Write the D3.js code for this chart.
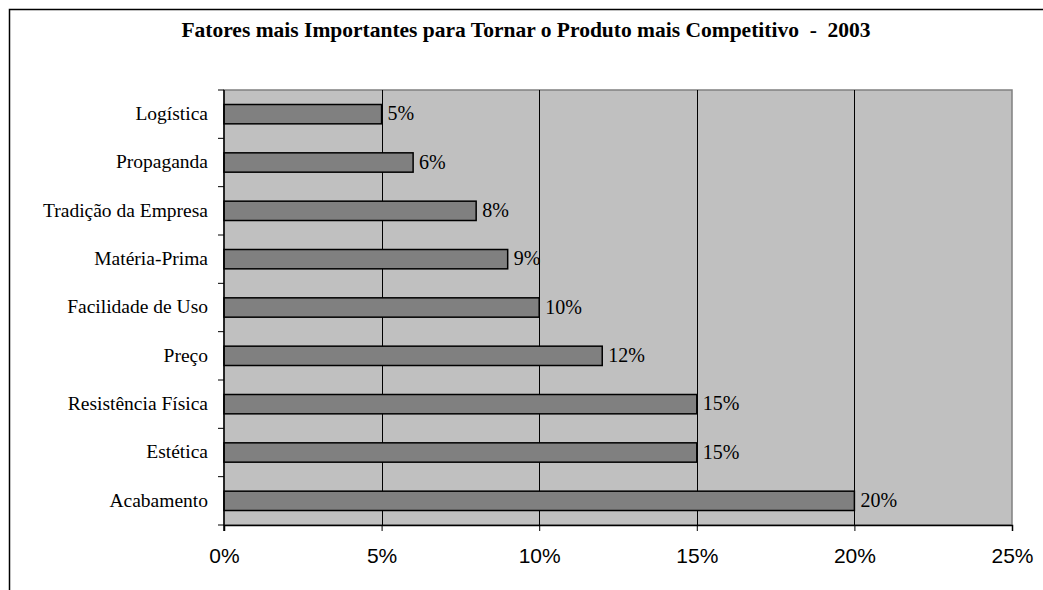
<!DOCTYPE html>
<html>
<head>
<meta charset="utf-8">
<script src="https://cdn.jsdelivr.net/npm/d3@7"></script>
<style>
  html, body { margin: 0; padding: 0; background: #fff; }
  svg { display: block; }
</style>
</head>
<body>
<svg id="chart" width="1043" height="590"></svg>
<script>
// Factors ranked by importance (top to bottom)
const categories = [
  "Logística", "Propaganda", "Tradição da Empresa", "Matéria-Prima",
  "Facilidade de Uso", "Preço", "Resistência Física", "Estética", "Acabamento"
];
const values = [5, 6, 8, 9, 10, 12, 15, 15, 20];
const xTicks = [0, 5, 10, 15, 20, 25];
const chartTitle = "Fatores mais Importantes para Tornar o Produto mais Competitivo  -  2003";

const svg = d3.select("#chart");
const W = 1043, H = 590;
const plot = { left: 224, right: 1012, top: 90, bottom: 525 };
const serif = "Liberation Serif, Times New Roman, serif";

// Outer frame (continues past the right and bottom edges)
svg.append("rect")
  .attr("x", 9.5).attr("y", 9.5)
  .attr("width", W + 20).attr("height", H + 20)
  .attr("fill", "#fff").attr("stroke", "#000").attr("stroke-width", 1.5);

// Title
svg.append("text")
  .attr("x", 526).attr("y", 37)
  .attr("text-anchor", "middle")
  .attr("font-family", serif)
  .attr("font-weight", "bold")
  .attr("font-size", 21.5)
  .style("white-space", "pre")
  .text(chartTitle);

const x = d3.scaleLinear().domain([0, 25]).range([plot.left, plot.right]);
const y = d3.scaleBand().domain(categories).range([plot.top, plot.bottom]).paddingInner(0.6).paddingOuter(0.3);
const yEdges = d3.scaleLinear().domain([0, categories.length]).range([plot.top, plot.bottom]);

// Plot background
svg.append("rect")
  .attr("x", plot.left).attr("y", plot.top)
  .attr("width", plot.right - plot.left).attr("height", plot.bottom - plot.top)
  .attr("fill", "#c0c0c0").attr("stroke", "#808080").attr("stroke-width", 1.5);

// Vertical gridlines
svg.append("g").selectAll("line")
  .data(xTicks.filter(t => t > 0 && t < 25))
  .join("line")
  .attr("x1", d => Math.round(x(d)) + 0.5).attr("x2", d => Math.round(x(d)) + 0.5)
  .attr("y1", plot.top).attr("y2", plot.bottom)
  .attr("stroke", "#000").attr("stroke-width", 1);

// Bars
svg.append("g").selectAll("rect")
  .data(values)
  .join("rect")
  .attr("x", x(0))
  .attr("y", (d, i) => y(categories[i]))
  .attr("width", d => x(d) - x(0))
  .attr("height", y.bandwidth())
  .attr("fill", "#808080")
  .attr("stroke", "#000").attr("stroke-width", 1.5);

// Value labels
svg.append("g").selectAll("text")
  .data(values)
  .join("text")
  .attr("x", d => x(d) + 6)
  .attr("y", (d, i) => y(categories[i]) + y.bandwidth() / 2)
  .attr("dy", "0.3em")
  .attr("font-family", serif)
  .attr("font-size", 20)
  .attr("fill", "#000")
  .text(d => d + "%");

// X axis
const xAxis = d3.axisBottom(x).tickValues(xTicks).tickFormat(d => d + "%").tickSize(6).tickPadding(17);
const gx = svg.append("g").attr("transform", `translate(0,${plot.bottom})`).call(xAxis);
gx.select(".domain").attr("stroke", "#000").attr("stroke-width", 1.5);
gx.selectAll(".tick line").attr("stroke", "#000");
gx.selectAll(".tick text")
  .attr("font-family", "Liberation Sans, Arial, sans-serif")
  .attr("font-size", 21)
  .attr("fill", "#000");

// Y axis: category labels plus boundary ticks
const gy = svg.append("g");
gy.append("line")
  .attr("x1", plot.left).attr("x2", plot.left)
  .attr("y1", plot.top).attr("y2", plot.bottom + 6)
  .attr("stroke", "#000").attr("stroke-width", 1.5);
gy.selectAll("line.edge")
  .data(d3.range(categories.length + 1))
  .join("line").attr("class", "edge")
  .attr("x1", plot.left - 6).attr("x2", plot.left)
  .attr("y1", d => yEdges(d)).attr("y2", d => yEdges(d))
  .attr("stroke", "#000").attr("stroke-width", 1);
gy.selectAll("text")
  .data(categories)
  .join("text")
  .attr("x", plot.left - 16)
  .attr("y", d => y(d) + y.bandwidth() / 2)
  .attr("dy", "0.3em")
  .attr("text-anchor", "end")
  .attr("font-family", serif)
  .attr("font-size", 19.5)
  .attr("fill", "#000")
  .text(d => d);
</script>
</body>
</html>
